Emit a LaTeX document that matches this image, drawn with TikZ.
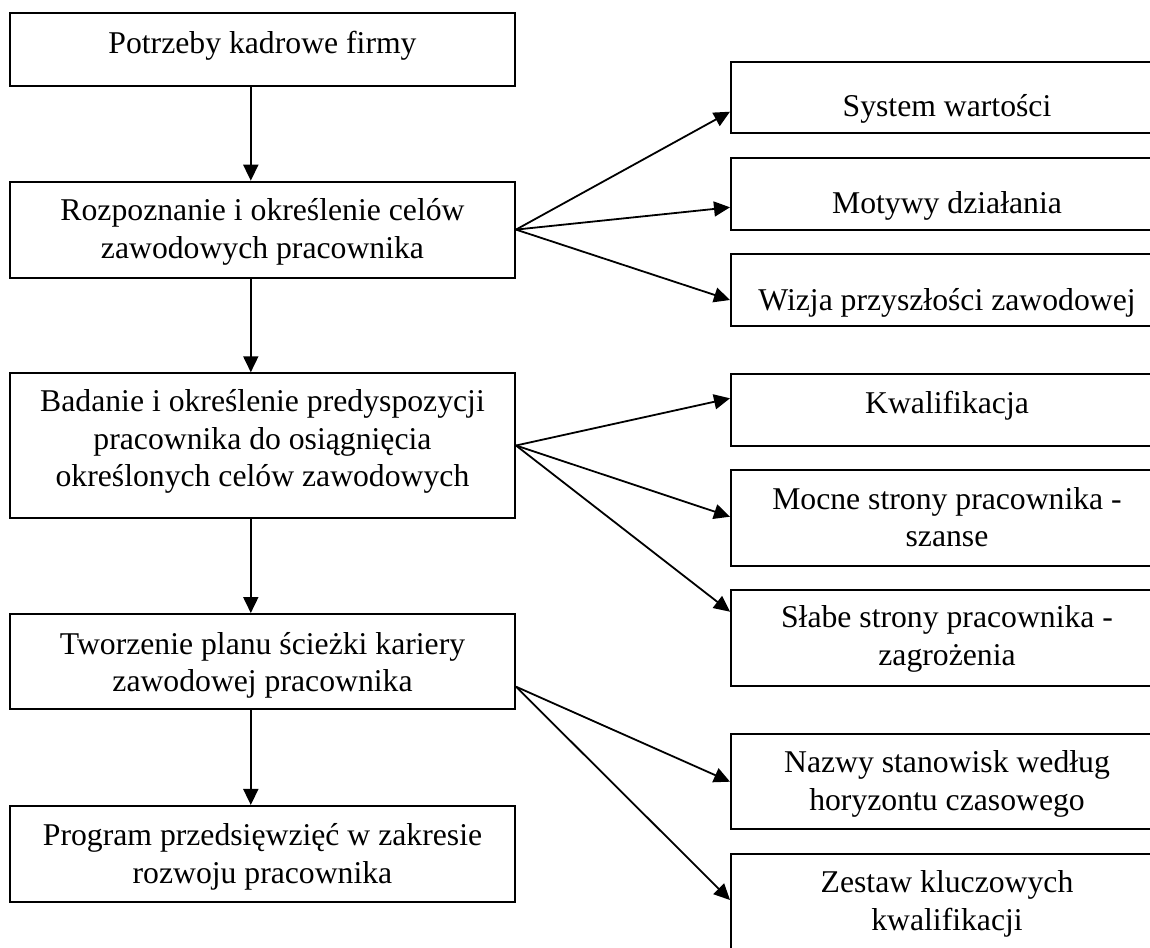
\documentclass[tikz,border=0pt]{standalone}
\usepackage{fontspec}
\setmainfont{Liberation Serif}
\usetikzlibrary{arrows.meta}
\begin{document}
\begin{tikzpicture}[x=1pt,y=-1pt,
  box/.style={draw=black,line width=2pt,inner sep=0pt,rectangle},
  lbox/.style={box,minimum width=505pt},
  rbox/.style={box,minimum width=432pt},
  txt/.style={inner sep=0pt,align=center,font=\fontsize{31.7pt}{37.5pt}\selectfont},
  arr/.style={line width=1.8pt,-{Triangle[length=16pt,width=15pt]}}]
\useasboundingbox (0,0) rectangle (1150,947);
% left column
\node[lbox,minimum height=72.7pt] (potr) at (262.5,49.7) {};
\node[lbox,minimum height=95.8pt] (roz)  at (262.5,229.6) {};
\node[lbox,minimum height=144.4pt] (bad) at (262.5,445.5) {};
\node[lbox,minimum height=95.3pt] (two)  at (262.5,661.7) {};
\node[lbox,minimum height=95.7pt] (prog) at (262.5,853.8) {};
% right column
\node[rbox,minimum height=71.6pt] (sys) at (947,97.5) {};
\node[rbox,minimum height=71.7pt] (mot) at (947,194.2) {};
\node[rbox,minimum height=71.7pt] (wiz) at (947,289.9) {};
\node[rbox,minimum height=71.7pt] (kwa) at (947,409.9) {};
\node[rbox,minimum height=96pt] (moc) at (947,518) {};
\node[rbox,minimum height=96pt] (sla) at (947,638) {};
\node[rbox,minimum height=95.3pt] (naz) at (947,781.7) {};
\node[rbox,minimum height=96pt] (zes) at (947,902) {};
% texts (anchor=base is the baseline of the last line)
\node[txt,anchor=base] (tpotr) at (262.5,54) {Potrzeby kadrowe firmy};
\node[txt,anchor=base] (troz) at (262.5,258.3) {Rozpoznanie i określenie celów\\zawodowych pracownika};
\node[txt,anchor=base] (tbad) at (262.5,486.7) {Badanie i określenie predyspozycji\\pracownika do osiągnięcia\\określonych celów zawodowych};
\node[txt,anchor=base] (ttwo) at (262.5,691.7) {Tworzenie planu ścieżki kariery\\zawodowej pracownika};
\node[txt,anchor=base] (tprog) at (262.5,883.3) {Program przedsięwzięć w zakresie\\rozwoju pracownika};
\node[txt,anchor=base] (tsys) at (947,116.7) {System wartości};
\node[txt,anchor=base] (tmot) at (947,213) {Motywy działania};
\node[txt,anchor=base] (twiz) at (947,310) {Wizja przyszłości zawodowej};
\node[txt,anchor=base] (tkwa) at (947,413) {Kwalifikacja};
\node[txt,anchor=base] (tmoc) at (947,546.7) {Mocne strony pracownika -\\szanse};
\node[txt,anchor=base] (tsla) at (947,665) {Słabe strony pracownika -\\zagrożenia};
\node[txt,anchor=base] (tnaz) at (947,810) {Nazwy stanowisk według\\horyzontu czasowego};
\node[txt,anchor=base] (tzes) at (947,930) {Zestaw kluczowych\\kwalifikacji};
% vertical arrows
\coordinate (ax) at (250.8,0);
\draw[arr] (potr.south -| ax) -- (roz.north -| ax);
\draw[arr] (roz.south -| ax) -- (bad.north -| ax);
\draw[arr] (bad.south -| ax) -- (two.north -| ax);
\draw[arr] (two.south -| ax) -- (prog.north -| ax);
% fan arrows
\draw[arr] (roz.east) -- ([yshift=-14.2pt]sys.west);
\draw[arr] (roz.east) -- ([yshift=-13.1pt]mot.west);
\draw[arr] (roz.east) -- ([yshift=-10.1pt]wiz.west);
\draw[arr] (bad.east) -- ([yshift=11.6pt]kwa.west);
\draw[arr] (bad.east) -- ([yshift=1.3pt]moc.west);
\draw[arr] (bad.east) -- ([yshift=26.3pt]sla.west);
\coordinate (twoout) at ([yshift=-25pt]two.east);
\draw[arr] (twoout) -- (naz.west);
\draw[arr] (twoout) -- ([yshift=2pt]zes.west);
\end{tikzpicture}
\end{document}
